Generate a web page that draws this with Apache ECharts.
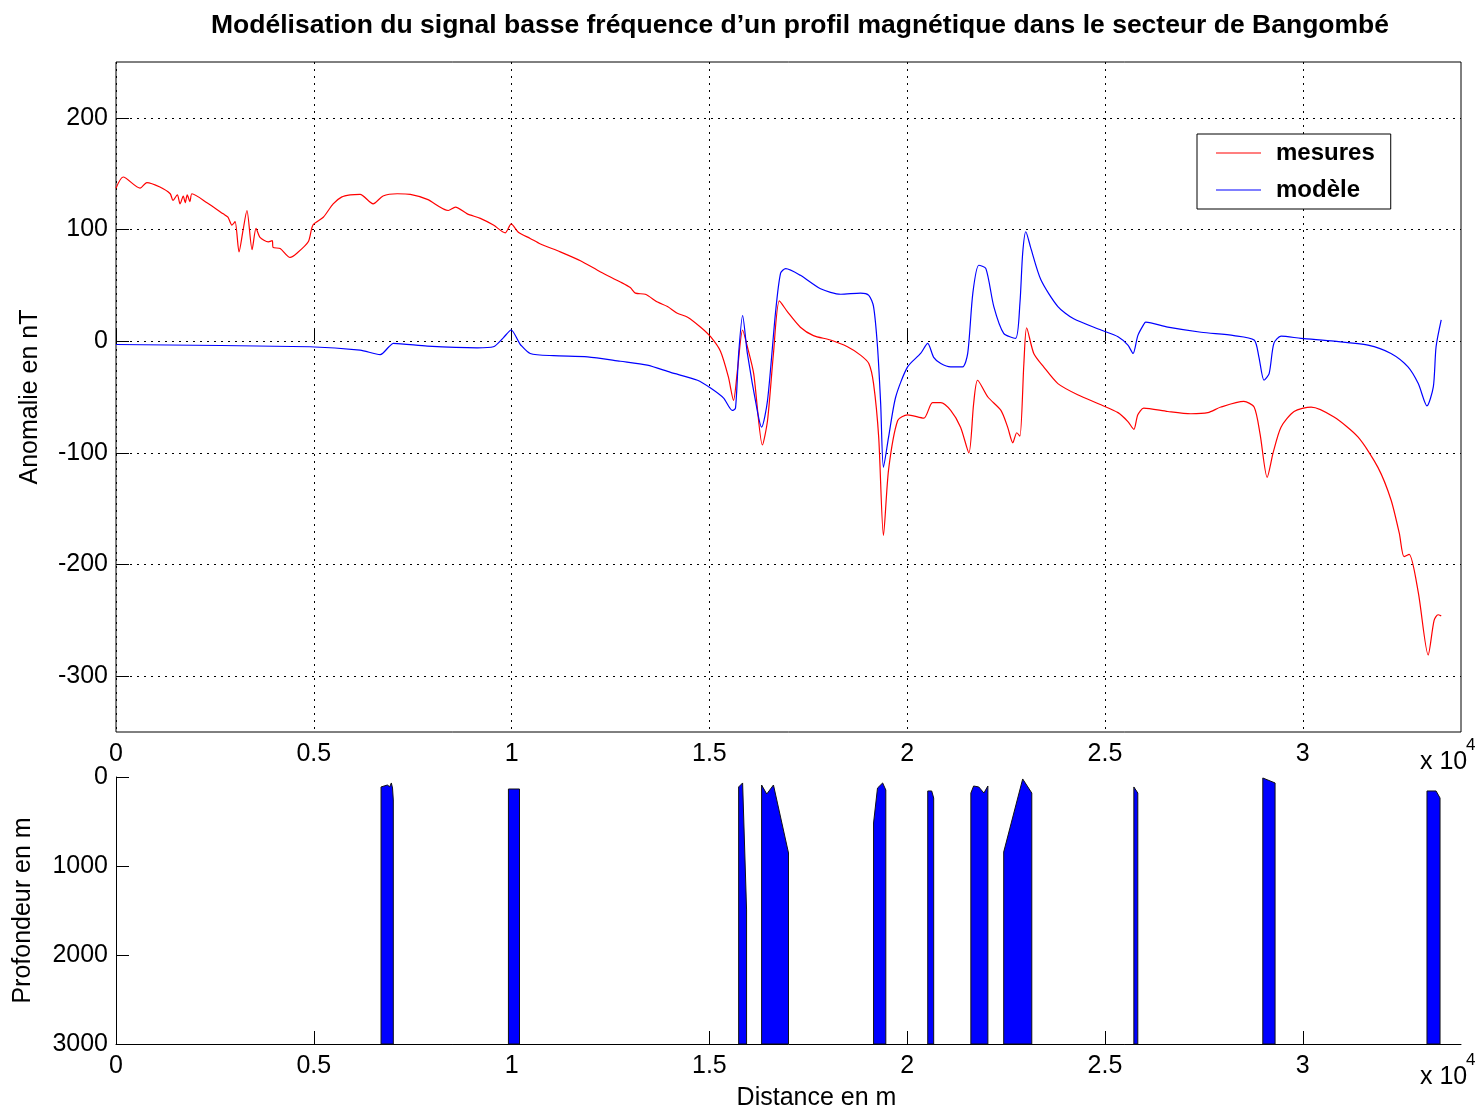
<!DOCTYPE html>
<html><head><meta charset="utf-8">
<script src="https://cdn.jsdelivr.net/npm/echarts@6/dist/echarts.min.js"></script>
<style>html,body{margin:0;padding:0;background:#fff}#c{width:1481px;height:1112px}</style>
</head><body><div id="c"></div>
<script>
const titleText = 'Modélisation du signal basse fréquence d’un profil magnétique dans le secteur de Bangombé';
const seriesNames = ['mesures', 'modèle'];
const anomalyTicks = [-300, -200, -100, 0, 100, 200];
const depthTicks = [0, 1000, 2000, 3000];
const distanceTicks = [0, 5000, 10000, 15000, 20000, 25000, 30000];
const distanceMax = 34000;
const depthMax = 3000;

// [distance (m), anomaly (nT)]
const mesures = [
  [0,137],[180,147],[610,137],[780,142],[1110,138],[1370,132],[1440,126],[1550,131],[1620,123],[1700,130],
  [1750,124],[1800,131],[1870,125],[1920,132],[2300,124],[2710,114],[2830,111],[2930,104],[3010,107],[3110,80],
  [3210,99],[3310,117],[3440,82],[3540,101],[3640,93],[3850,89],[3950,90],[3970,84],[4150,83],[4400,75],
  [4580,79],[4860,89],[4980,104],[5240,111],[5490,123],[5700,129],[5920,131],[6170,131.5],[6500,123],[6750,130],
  [7110,132],[7440,131.5],[7870,127],[8400,117],[8580,120],[8880,114],[9210,110],[9540,104],[9840,97],[9990,105],
  [10170,97.5],[10470,92],[10730,87],[11230,80],[11740,72],[12250,62],[12750,53],[13000,48],[13130,43],[13380,42],
  [13690,35],[13940,31],[14190,25],[14450,21.5],[14780,12.5],[15030,4],[15280,-9],[15480,-32],[15610,-53],[15710,-26],
  [15840,10],[15960,-5],[16120,-29],[16340,-93],[16470,-71],[16620,-11],[16770,36],[16980,26],[17300,12.5],[17630,5],
  [18060,1],[18490,-5],[18820,-12.5],[19030,-20],[19150,-38],[19280,-86],[19400,-174],[19530,-115],[19760,-71],[20010,-66],
  [20420,-69],[20640,-55],[20850,-55],[21100,-62],[21350,-77],[21560,-100],[21680,-56],[21780,-35],[22040,-50],[22370,-62],
  [22540,-77],[22670,-91],[22770,-82],[22850,-85],[22950,-20],[23020,12],[23200,-11],[23450,-23],[23810,-38],[24310,-48],
  [24900,-57],[25330,-64],[25580,-72],[25730,-79],[25830,-66],[25980,-60],[26590,-63],[27170,-65],[27600,-64],[27930,-59],
  [28510,-54],[28770,-59],[28920,-83],[29100,-122],[29250,-100],[29450,-77],[29780,-63],[30210,-59],[30790,-68],[31400,-86],
  [31900,-113],[32230,-142],[32440,-172],[32560,-193],[32690,-191],[32920,-225],[33170,-281],[33320,-250],[33420,-245],[33500,-246]
];
const modele = [
  [0,-3],[4900,-5],[6170,-8],[6680,-12],[6900,-5],[7010,-2],[7870,-4.5],[9130,-6],[9540,-5],[9790,3],
  [9990,10],[10170,0],[10220,-3],[10470,-11],[11060,-13],[11920,-14],[12750,-18],[13430,-21.5],[14020,-28],[14700,-35],
  [15030,-42],[15360,-51],[15580,-62],[15660,-60],[15740,-11],[15840,23],[15960,-11],[16220,-64],[16320,-77],[16470,-53],
  [16670,25],[16800,61],[16930,65],[17300,59],[17810,47],[18320,42],[18820,43],[19030,41],[19150,31],[19250,-5],
  [19330,-56],[19400,-113],[19530,-86],[19710,-50],[20010,-23],[20340,-11],[20520,-2],[20670,-14.5],[20850,-20],[21100,-23],
  [21400,-23],[21530,-11],[21660,43],[21810,68],[21990,65],[22190,31],[22440,7],[22740,2.5],[22850,34],[22920,79],
  [23000,98],[23120,84],[23380,55],[23810,31],[24210,20],[24900,10],[25330,4],[25580,-3.5],[25710,-11],[25830,5],
  [25980,15],[26030,17],[26590,12.5],[27430,8],[28260,5],[28770,1],[28890,-14],[29020,-35],[29150,-29],[29270,-2],
  [29450,4.5],[29960,2.5],[30790,0],[31650,-3.5],[32230,-11],[32660,-23],[32920,-38],[33140,-58],[33300,-41],[33370,-5],
  [33500,19]
];
// top outline of each body [distance (m), depth (m)], bodies extend down to depthMax
const bodies = [
  [[6700,112],[6860,90],[6920,110],[6960,67],[6990,124],[7010,258]],
  [[9920,135],[10200,135]],
  [[15740,112],[15840,67],[15940,1494]],
  [[16320,90],[16450,191],[16620,90],[17000,854]],
  [[19150,517],[19250,124],[19380,67],[19460,146]],
  [[20520,157],[20620,157],[20670,236]],
  [[21610,180],[21680,101],[21810,112],[21940,180],[22040,101]],
  [[22440,843],[22920,22],[23150,180]],
  [[25730,112],[25830,180]],
  [[28990,11],[29300,67]],
  [[33140,157],[33370,157],[33470,236]]
];

const FONT = 'Liberation Sans, Arial, Helvetica, sans-serif';
const FS = 25;
const dotted = {color:'#000', type:[2,5], width:1};
const distLabel = v => (v % 5000 === 0 && v <= 30000) ? String(v / 10000) : '';

const chart = echarts.init(document.getElementById('c'), null, {renderer:'canvas'});
chart.setOption({
  animation:false,
  backgroundColor:'#fff',
  textStyle:{fontFamily:FONT},
  title:{text:titleText, left:795, top:7, textAlign:'center',
    textStyle:{fontFamily:FONT, fontSize:26.5, fontWeight:'bold', color:'#000'}},
  legend:{orient:'vertical', left:1197, top:134, padding:[7,16,7,19], itemWidth:45, itemHeight:24, itemGap:13,
    icon:'path://M0,0H100V2.4H0Z',
    borderColor:'#000', borderWidth:1, backgroundColor:'#fff', data:seriesNames,
    textStyle:{fontFamily:FONT, fontSize:24, fontWeight:'bold', color:'#000', padding:[0,0,0,10]}},
  grid:[
    {left:116, top:62, width:1345, height:670, show:true, borderColor:'#000', borderWidth:1, backgroundColor:'transparent'},
    {left:116, top:777, width:1345, height:267, show:false}
  ],
  xAxis:[
    {type:'value', gridIndex:0, min:0, max:distanceMax, interval:5000,
      axisLine:{show:false},
      axisTick:{show:true, inside:true, length:13, customValues:distanceTicks, lineStyle:{color:'#000'}},
      axisLabel:{customValues:distanceTicks, formatter:distLabel, fontSize:FS, color:'#000', margin:10, fontFamily:FONT},
      splitLine:{show:true, lineStyle:dotted}},
    {type:'value', gridIndex:1, min:0, max:distanceMax, interval:5000,
      axisLine:{show:true, onZero:false, lineStyle:{color:'#000', width:1}},
      axisTick:{show:true, inside:true, length:13, customValues:distanceTicks, lineStyle:{color:'#000'}},
      axisLabel:{customValues:distanceTicks, formatter:distLabel, fontSize:FS, color:'#000', margin:10, fontFamily:FONT},
      splitLine:{show:false},
      name:'Distance en m', nameLocation:'middle', nameGap:42,
      nameTextStyle:{fontSize:FS, color:'#000', fontFamily:FONT, padding:[0,0,0,56]}}
  ],
  yAxis:[
    {type:'value', gridIndex:0, min:-350, max:250, splitNumber:6,
      axisLine:{show:false},
      axisTick:{show:true, inside:true, length:13, customValues:anomalyTicks, lineStyle:{color:'#000'}},
      axisLabel:{customValues:anomalyTicks, fontSize:FS, color:'#000', margin:8, fontFamily:FONT},
      splitLine:{show:true, lineStyle:dotted},
      name:'Anomalie en nT', nameLocation:'middle', nameGap:73,
      nameTextStyle:{fontSize:FS, color:'#000', fontFamily:FONT}},
    {type:'value', gridIndex:1, min:0, max:depthMax, interval:1000, inverse:true,
      axisLine:{show:true, onZero:false, lineStyle:{color:'#000', width:1}},
      axisTick:{show:true, inside:true, length:13, customValues:depthTicks, lineStyle:{color:'#000'}},
      axisLabel:{customValues:depthTicks, formatter:v => String(v), fontSize:FS, color:'#000', margin:8, fontFamily:FONT},
      splitLine:{show:false},
      name:'Profondeur en m', nameLocation:'middle', nameGap:80,
      nameTextStyle:{fontSize:FS, color:'#000', fontFamily:FONT}}
  ],
  graphic:[
    {type:'text', left:1420, top:750, style:{text:'x 10', fontSize:FS, fill:'#000', fontFamily:FONT}},
    {type:'text', left:1466, top:737, style:{text:'4', fontSize:17, fill:'#000', fontFamily:FONT}},
    {type:'text', left:1420, top:1065, style:{text:'x 10', fontSize:FS, fill:'#000', fontFamily:FONT}},
    {type:'text', left:1466, top:1052, style:{text:'4', fontSize:17, fill:'#000', fontFamily:FONT}}
  ],
  series:[
    {name:seriesNames[0], type:'line', xAxisIndex:0, yAxisIndex:0, data:mesures, symbol:'none', smooth:0.25,
      lineStyle:{color:'#ff0000', width:1.2}, itemStyle:{color:'#ff0000'}, z:3},
    {name:seriesNames[1], type:'line', xAxisIndex:0, yAxisIndex:0, data:modele, symbol:'none', smooth:0.25,
      lineStyle:{color:'#0000ff', width:1.2}, itemStyle:{color:'#0000ff'}, z:3},
    {name:'corps', type:'custom', xAxisIndex:1, yAxisIndex:1,
      data: bodies.map((b, i) => [b[0][0], b[0][1], i]),
      encode:{x:0, y:1},
      renderItem:(params, api) => {
        const b = bodies[api.value(2)];
        const pts = b.map(p => api.coord([p[0], p[1]]));
        pts.push(api.coord([b[b.length-1][0], depthMax]));
        pts.push(api.coord([b[0][0], depthMax]));
        return {type:'polygon', shape:{points:pts}, style:{fill:'#0000ff', stroke:'#111', lineWidth:1}};
      }}
  ]
});
</script></body></html>
